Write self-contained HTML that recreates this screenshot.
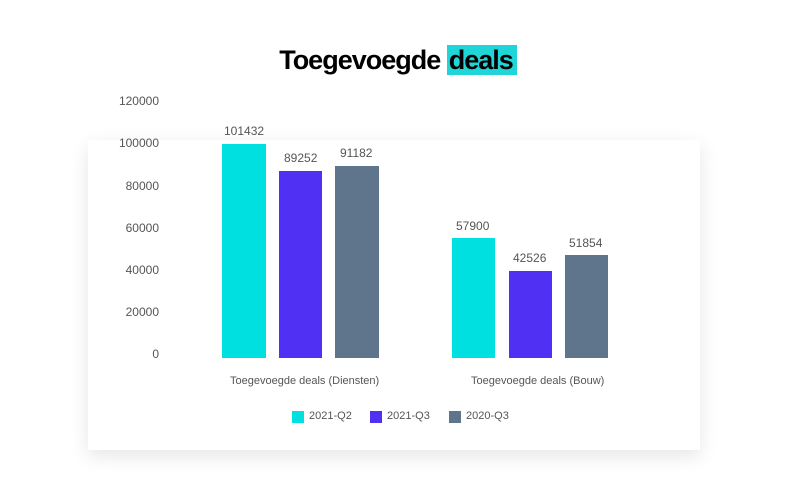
<!DOCTYPE html>
<html><head><meta charset="utf-8"><style>
body{margin:0;width:788px;height:500px;background:#fff;overflow:hidden;font-family:"Liberation Sans",sans-serif;position:relative}
.card{position:absolute;left:88px;top:140px;width:612px;height:310px;background:#fff;box-shadow:0 6px 18px rgba(0,0,0,0.10)}
.t{position:absolute;font-size:12px;color:#555;white-space:nowrap}
.b{position:absolute}
h1{position:absolute;margin:0;left:0;width:796px;top:45px;text-align:center;font-size:27px;font-weight:bold;letter-spacing:-1px;color:#000}
h1 span{background:#20d5d8;padding:0 4px 0 2px}
</style></head><body>
<div class="card"></div>
<h1>Toegevoegde <span>deals</span></h1>
<div class="t" style="right:629px;top:94px">120000</div>
<div class="t" style="right:629px;top:136px">100000</div>
<div class="t" style="right:629px;top:179px">80000</div>
<div class="t" style="right:629px;top:221px">60000</div>
<div class="t" style="right:629px;top:263px">40000</div>
<div class="t" style="right:629px;top:305px">20000</div>
<div class="t" style="right:629px;top:347px">0</div>

<div class="b" style="left:222px;top:144px;width:44px;height:214px;background:#00e0e0"></div>
<div class="b" style="left:279px;top:171px;width:43px;height:187px;background:#5030f2"></div>
<div class="b" style="left:335px;top:166px;width:44px;height:192px;background:#5e758b"></div>
<div class="b" style="left:452px;top:238px;width:43px;height:120px;background:#00e0e0"></div>
<div class="b" style="left:509px;top:271px;width:43px;height:87px;background:#5030f2"></div>
<div class="b" style="left:565px;top:255px;width:43px;height:103px;background:#5e758b"></div>

<div class="t" style="left:224px;top:124px">101432</div>
<div class="t" style="left:284px;top:151px">89252</div>
<div class="t" style="left:340px;top:146px">91182</div>
<div class="t" style="left:456px;top:219px">57900</div>
<div class="t" style="left:513px;top:251px">42526</div>
<div class="t" style="left:569px;top:236px">51854</div>

<div class="t" style="left:230px;top:375px;font-size:11px">Toegevoegde deals (Diensten)</div>
<div class="t" style="left:471px;top:375px;font-size:11px">Toegevoegde deals (Bouw)</div>

<div class="b" style="left:292px;top:411px;width:12px;height:12px;background:#00e0e0"></div>
<div class="t" style="left:309px;top:410px;font-size:11px">2021-Q2</div>
<div class="b" style="left:370px;top:411px;width:12px;height:12px;background:#5030f2"></div>
<div class="t" style="left:387px;top:410px;font-size:11px">2021-Q3</div>
<div class="b" style="left:449px;top:411px;width:12px;height:12px;background:#5e758b"></div>
<div class="t" style="left:466px;top:410px;font-size:11px">2020-Q3</div>
</body></html>
